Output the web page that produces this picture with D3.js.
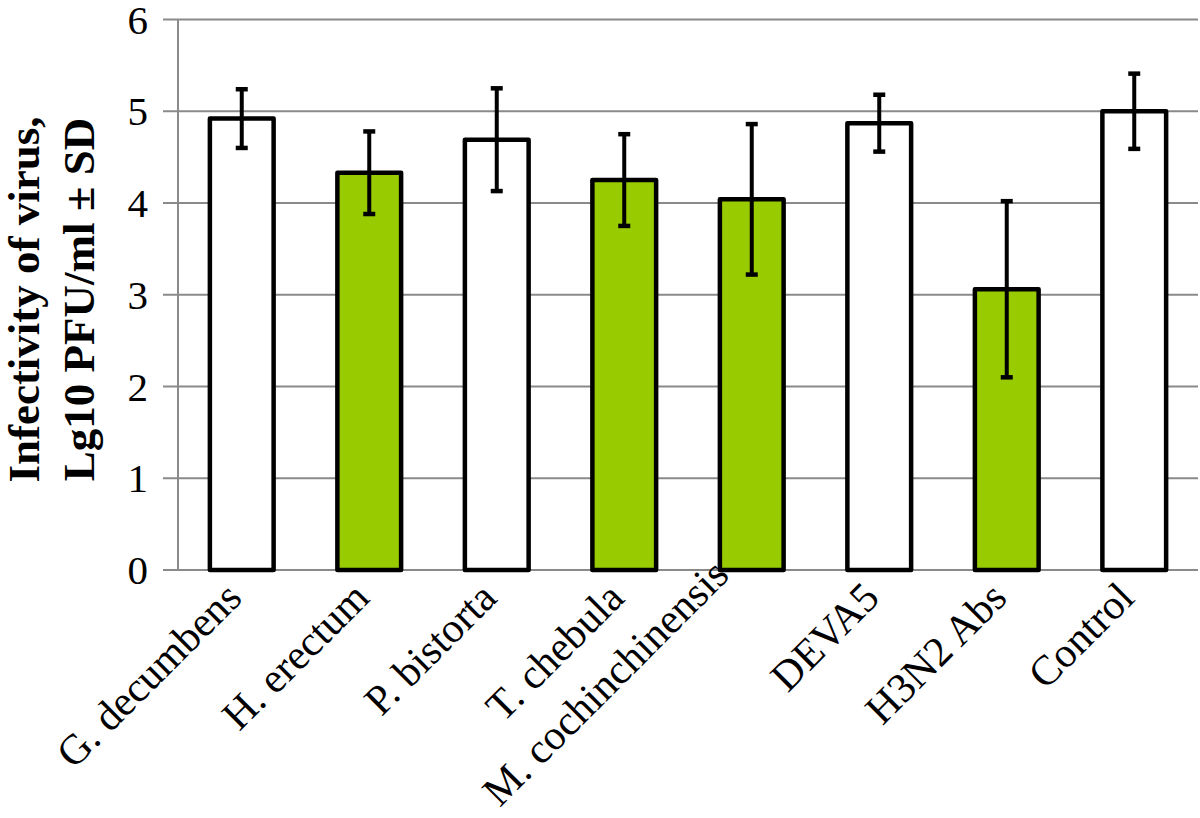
<!DOCTYPE html>
<html><head><meta charset="utf-8">
<script src="https://cdn.jsdelivr.net/npm/d3@7"></script>
<style>body{margin:0;background:#fff}svg{display:block}</style>
</head><body>
<svg id="chart" width="1200" height="818"></svg>
<script>
const categories = ["G. decumbens","H. erectum","P. bistorta","T. chebula","M. cochinchinensis","DEVA5","H3N2 Abs","Control"];
const values = [4.92, 4.33, 4.69, 4.25, 4.04, 4.87, 3.06, 5.00];
const sd = [0.32, 0.45, 0.56, 0.50, 0.82, 0.31, 0.96, 0.41];
const highlighted = [false, true, false, true, true, false, true, false];
const yTicks = [0,1,2,3,4,5,6];
const titleLines = ["Infectivity of virus,", "Lg10 PFU/ml \u00b1 SD"];

(function () {
const svg = d3.select("#chart");
const plotLeft = 178, plotRight = 1198, plotTop = 19.5, plotBottom = 570;
const x = d3.scaleBand().domain(categories).range([plotLeft, plotRight]).paddingInner(0.5).paddingOuter(0.25);
const y = d3.scaleLinear().domain([0, 6]).range([plotBottom, plotTop]);
const font = "'Liberation Serif','Times New Roman',serif";
const grid = "#8a8a8a";

// gridlines with tick marks
svg.append("g").selectAll("line").data(yTicks).join("line")
  .attr("x1", plotLeft - 15).attr("x2", plotRight)
  .attr("y1", d => y(d)).attr("y2", d => y(d))
  .attr("stroke", grid).attr("stroke-width", 2);
// y axis line
svg.append("line").attr("x1", plotLeft).attr("x2", plotLeft).attr("y1", plotTop).attr("y2", plotBottom)
  .attr("stroke", grid).attr("stroke-width", 2);

// y tick labels
svg.append("g").selectAll("text").data(yTicks).join("text")
  .attr("x", 148).attr("y", d => y(d) + 14)
  .attr("text-anchor", "end").attr("font-family", font).attr("font-size", 41)
  .attr("fill", "#000").text(d => d);

// bars
svg.append("g").selectAll("rect").data(categories).join("rect")
  .attr("x", d => x(d)).attr("width", x.bandwidth())
  .attr("y", (d, i) => y(values[i])).attr("height", (d, i) => y(0) - y(values[i]))
  .attr("fill", (d, i) => highlighted[i] ? "#99cc00" : "#ffffff")
  .attr("stroke", "#000").attr("stroke-width", 4.5).attr("stroke-linejoin", "round");

// error bars
const eb = svg.append("g").attr("stroke", "#000");
categories.forEach((c, i) => {
  const cx = x(c) + x.bandwidth() / 2;
  eb.append("line").attr("x1", cx).attr("x2", cx)
    .attr("y1", y(values[i] + sd[i])).attr("y2", y(values[i] - sd[i])).attr("stroke-width", 4);
  [values[i] + sd[i], values[i] - sd[i]].forEach(v => {
    eb.append("line").attr("x1", cx - 6).attr("x2", cx + 6)
      .attr("y1", y(v)).attr("y2", y(v)).attr("stroke-width", 4.5);
  });
});

// x labels (rotated, ending at the category centre; long ones lifted to stay on the canvas)
const xl = svg.append("g").selectAll("text").data(categories).join("text")
  .attr("text-anchor", "end").attr("font-family", font).attr("font-size", 42)
  .attr("fill", "#000").text(d => d);
xl.each(function (d) {
  const len = this.getComputedTextLength();
  const drop = len * Math.SQRT1_2;
  let ax = x(d) + x.bandwidth() / 2 + 2, ay = 600;
  const overflow = ay + drop - 808;
  if (overflow > 0) { ax -= overflow; ay -= overflow; }
  d3.select(this).attr("transform", `translate(${ax},${ay}) rotate(-45)`);
});

// y title
const cy = 299.5;
svg.append("text").attr("transform", `translate(39,${cy}) rotate(-90)`)
  .attr("text-anchor", "middle").attr("font-family", font).attr("font-size", 45)
  .attr("font-weight", "bold").text(titleLines[0]);
svg.append("text").attr("transform", `translate(94,${cy}) rotate(-90)`)
  .attr("text-anchor", "middle").attr("font-family", font).attr("font-size", 45)
  .attr("font-weight", "bold").text(titleLines[1]);
})();
</script>
</body></html>
